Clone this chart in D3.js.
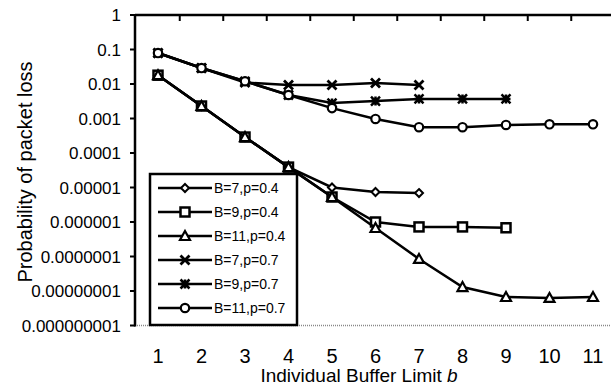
<!DOCTYPE html>
<html>
<head>
<meta charset="utf-8">
<script src="https://cdn.jsdelivr.net/npm/d3@7"></script>
<style>
  body { margin: 0; background: #fff; }
  svg { display: block; font-family: "Liberation Sans", Arial, sans-serif; }
</style>
</head>
<body>
<figure id="chart" style="margin:0"></figure>
<script>
// buffer limit b on the x axis
const bufferLimits = [1, 2, 3, 4, 5, 6, 7, 8, 9, 10, 11];
const yTickValues = [1, 0.1, 0.01, 0.001, 0.0001, 0.00001, 0.000001, 0.0000001, 0.00000001, 0.000000001];
const yTickLabels = ["1", "0.1", "0.01", "0.001", "0.0001", "0.00001", "0.000001", "0.0000001", "0.00000001", "0.000000001"];

const seriesNames = ["B=7,p=0.4", "B=9,p=0.4", "B=11,p=0.4", "B=7,p=0.7", "B=9,p=0.7", "B=11,p=0.7"];
const seriesMarkers = ["diamond", "square", "triangle", "cross", "star", "circle"];

const lossB7p04 = [0.018, 0.0023, 0.00029, 0.000039, 0.0000100, 0.0000074, 0.0000069];
const lossB9p04 = [0.018, 0.0023, 0.00029, 0.000039, 0.0000053, 0.0000010, 0.00000072, 0.00000072, 0.00000068];
const lossB11p04 = [0.018, 0.0023, 0.00029, 0.000039, 0.0000053, 0.00000067, 0.000000085, 0.000000013, 0.0000000067, 0.0000000063, 0.0000000067];
const lossB7p07 = [0.079, 0.029, 0.011, 0.0093, 0.0093, 0.0107, 0.0093];
const lossB9p07 = [0.079, 0.029, 0.012, 0.0048, 0.0028, 0.0032, 0.0037, 0.0037, 0.0037];
const lossB11p07 = [0.079, 0.029, 0.012, 0.0048, 0.0020, 0.00097, 0.00056, 0.00056, 0.00065, 0.00068, 0.00068];

const allSeries = [lossB7p04, lossB9p04, lossB11p04, lossB7p07, lossB9p07, lossB11p07];

const width = 611;
const height = 386;

const svg = d3.select("figure#chart")
  .append("svg")
  .attr("width", width)
  .attr("height", height);

const x = d3.scalePoint()
  .domain(bufferLimits)
  .range([158, 593]);

const y = d3.scaleLog()
  .domain([1e-9, 1])
  .range([325.5, 15]);

const step = x.step();
const left = 135;

// bottom dotted line of the plot area
svg.append("line")
  .attr("x1", left).attr("x2", width)
  .attr("y1", y(1e-9)).attr("y2", y(1e-9))
  .attr("stroke", "#888")
  .attr("stroke-width", 1.5)
  .attr("stroke-dasharray", "1,1");

// top axis with ticks between categories
svg.append("line")
  .attr("x1", left).attr("x2", width)
  .attr("y1", y(1)).attr("y2", y(1))
  .attr("stroke", "#000")
  .attr("stroke-width", 2.5);

svg.selectAll(".xtick")
  .data(bufferLimits.slice(0, -1))
  .enter()
  .append("line")
  .attr("x1", d => x(d) + step / 2)
  .attr("x2", d => x(d) + step / 2)
  .attr("y1", y(1))
  .attr("y2", y(1) + 6)
  .attr("stroke", "#000")
  .attr("stroke-width", 2);

// left axis
svg.append("line")
  .attr("x1", left).attr("x2", left)
  .attr("y1", y(1) - 1).attr("y2", y(1e-9) + 1)
  .attr("stroke", "#000")
  .attr("stroke-width", 2.5);

svg.selectAll(".ytick")
  .data(yTickValues)
  .enter()
  .append("line")
  .attr("x1", left - 5)
  .attr("x2", left)
  .attr("y1", d => y(d))
  .attr("y2", d => y(d))
  .attr("stroke", "#000")
  .attr("stroke-width", 2);

svg.selectAll(".ylabel")
  .data(yTickValues)
  .enter()
  .append("text")
  .attr("x", 121)
  .attr("y", d => y(d) + 6)
  .attr("text-anchor", "end")
  .style("font-size", "17px")
  .text((d, i) => yTickLabels[i]);

svg.selectAll(".xlabel")
  .data(bufferLimits)
  .enter()
  .append("text")
  .attr("x", d => x(d))
  .attr("y", 363)
  .attr("text-anchor", "middle")
  .style("font-size", "20px")
  .text(d => d);

// axis titles
const xTitle = svg.append("text")
  .attr("x", 359)
  .attr("y", 382)
  .attr("text-anchor", "middle")
  .style("font-size", "19px");
xTitle.append("tspan").text("Individual Buffer Limit ");
xTitle.append("tspan").style("font-style", "italic").text("b");

svg.append("text")
  .attr("transform", "translate(32,172) rotate(-90)")
  .attr("text-anchor", "middle")
  .style("font-size", "20px")
  .text("Probability of packet loss");

// markers
function drawMarker(g, type, cx, cy) {
  const s = 4.5;
  if (type === "diamond") {
    g.append("path")
      .attr("d", `M${cx},${cy - 4}L${cx + 4},${cy}L${cx},${cy + 4}L${cx - 4},${cy}Z`)
      .attr("fill", "#fff").attr("stroke", "#000").attr("stroke-width", 2);
  } else if (type === "square") {
    g.append("rect")
      .attr("x", cx - s).attr("y", cy - s)
      .attr("width", 2 * s).attr("height", 2 * s)
      .attr("fill", "#fff").attr("stroke", "#000").attr("stroke-width", 2.5);
  } else if (type === "triangle") {
    g.append("path")
      .attr("d", `M${cx},${cy - 5}L${cx + 5},${cy + 4}L${cx - 5},${cy + 4}Z`)
      .attr("fill", "#fff").attr("stroke", "#000").attr("stroke-width", 2.2);
  } else if (type === "cross") {
    g.append("path")
      .attr("d", `M${cx - s},${cy - s}L${cx + s},${cy + s}M${cx - s},${cy + s}L${cx + s},${cy - s}`)
      .attr("stroke", "#000").attr("stroke-width", 2.8);
  } else if (type === "star") {
    g.append("path")
      .attr("d", `M${cx - s},${cy - s}L${cx + s},${cy + s}M${cx - s},${cy + s}L${cx + s},${cy - s}M${cx},${cy - s}L${cx},${cy + s}M${cx - s},${cy}L${cx + s},${cy}`)
      .attr("stroke", "#000").attr("stroke-width", 2.5);
  } else {
    g.append("circle")
      .attr("cx", cx).attr("cy", cy).attr("r", 4.2)
      .attr("fill", "#fff").attr("stroke", "#000").attr("stroke-width", 2.2);
  }
}

const line = d3.line()
  .x((d, i) => x(bufferLimits[i]))
  .y(d => y(d));

allSeries.forEach((values, k) => {
  const g = svg.append("g");
  g.append("path")
    .datum(values)
    .attr("d", line)
    .attr("fill", "none")
    .attr("stroke", "#000")
    .attr("stroke-width", 2.5);
  values.forEach((v, i) => drawMarker(g, seriesMarkers[k], x(bufferLimits[i]), y(v)));
});

// legend
const legend = svg.append("g");
legend.append("rect")
  .attr("x", 150).attr("y", 174)
  .attr("width", 147).attr("height", 151)
  .attr("fill", "#fff")
  .attr("stroke", "#000")
  .attr("stroke-width", 2.5);

seriesNames.forEach((name, k) => {
  const ly = 188 + k * 24;
  legend.append("line")
    .attr("x1", 158).attr("x2", 212)
    .attr("y1", ly).attr("y2", ly)
    .attr("stroke", "#000")
    .attr("stroke-width", 2.5);
  drawMarker(legend, seriesMarkers[k], 185, ly);
  legend.append("text")
    .attr("x", 214)
    .attr("y", ly + 5)
    .style("font-size", "14px")
    .text(name);
});
</script>
</body>
</html>
